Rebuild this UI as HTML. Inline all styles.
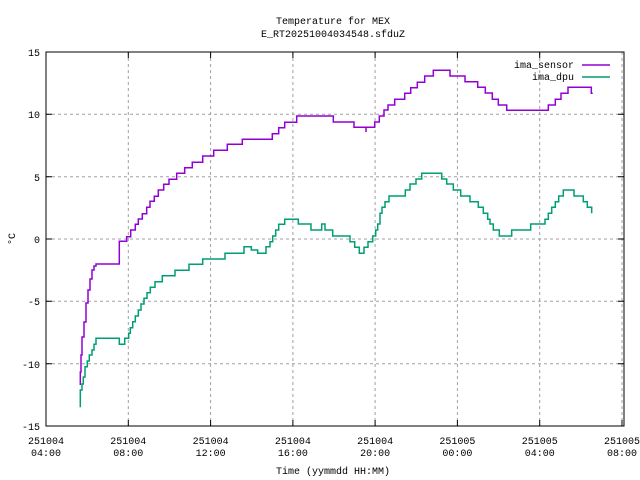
<!DOCTYPE html>
<html><head><meta charset="utf-8"><style>
html,body{margin:0;padding:0;background:#fff;}
svg{display:block;font-family:"Liberation Mono",monospace;font-size:10px;}
</style></head><body>
<svg width="640" height="480" viewBox="0 0 640 480" xmlns="http://www.w3.org/2000/svg">
<rect width="640" height="480" fill="#fff"/>
<g stroke="#a0a0a0" stroke-width="1" stroke-dasharray="3,3" fill="none">
<path d="M46 114.3H624M46 176.7H624M46 239H624M46 301.3H624M46 363.7H624"/>
<path d="M128.3 52V426M210.6 52V426M292.9 52V426M375.1 52V426M457.4 52V426M539.7 52V426M622 52V426"/>
</g>
<g stroke="#000" stroke-width="1" fill="none">
<rect x="46" y="52" width="578" height="374"/>
<path d="M46 114.3h6M46 176.7h6M46 239h6M46 301.3h6M46 363.7h6M624 114.3h-6M624 176.7h-6M624 239h-6M624 301.3h-6M624 363.7h-6"/>
<path d="M128.3 426v-6M210.6 426v-6M292.9 426v-6M375.1 426v-6M457.4 426v-6M539.7 426v-6M622 426v-6M128.3 52v6M210.6 52v6M292.9 52v6M375.1 52v6M457.4 52v6M539.7 52v6"/>
</g>
<g fill="#000" text-anchor="end">
<text x="40" y="56">15</text><text x="40" y="118">10</text><text x="40" y="181">5</text>
<text x="40" y="243">0</text><text x="40" y="305">-5</text><text x="40" y="368">-10</text><text x="40" y="430">-15</text>
</g>
<g fill="#000" text-anchor="middle">
<text x="46" y="444">251004</text><text x="46" y="456">04:00</text>
<text x="128.3" y="444">251004</text><text x="128.3" y="456">08:00</text>
<text x="210.6" y="444">251004</text><text x="210.6" y="456">12:00</text>
<text x="292.9" y="444">251004</text><text x="292.9" y="456">16:00</text>
<text x="375.1" y="444">251004</text><text x="375.1" y="456">20:00</text>
<text x="457.4" y="444">251005</text><text x="457.4" y="456">00:00</text>
<text x="539.7" y="444">251005</text><text x="539.7" y="456">04:00</text>
<text x="622" y="444">251005</text><text x="622" y="456">08:00</text>
<text x="333" y="474">Time (yymmdd HH:MM)</text>
<text x="333" y="24">Temperature for MEX</text>
<text x="333" y="37">E_RT20251004034548.sfduZ</text>
<text x="0" y="0" transform="translate(15,239) rotate(-90)">°C</text>
</g>
<g fill="#000" text-anchor="end">
<text x="574" y="68">ima_sensor</text><text x="574" y="80">ima_dpu</text>
</g>
<path d="M582 65H610" stroke="#9400d3" stroke-width="1.5"/>
<path d="M582 77H610" stroke="#009e73" stroke-width="1.5"/>
<path fill="none" stroke="#9400d3" stroke-width="1.5" d="M80.3 385 V372 H81 V355 H82 V337 H84 V322 H86 V303 H88 V290 H90 V279 H92 V270 H94 V266 H96 V264 H119.3 V241.3 H126.7 V236.7 H130.7 V230 H135.3 V224.3 H138.3 V219 H142.3 V213.7 H146.7 V207.3 H150 V201.3 H154.3 V196.3 H158.3 V190 H163.7 V184.3 H169 V179.3 H176.7 V173.3 H184.7 V167.7 H192.3 V162.3 H202.7 V156 H213.7 V150.3 H227.3 V144.3 H242.3 V139.3 H272.3 V133.7 H278.7 V127.7 H284.7 V122.3 H296.7 V116 H333.3 V122 H354 V127.3 H366 V132 V127.3 H374.7 V122 H379.3 V116 H384 V110 H388 V105 H394.7 V99.3 H404.7 V93.3 H410.7 V87.7 H417.3 V82.3 H424.7 V76 H433.3 V70.3 H450 V76 H465 V81.7 H477.7 V87.3 H485.3 V93 H492.3 V99.3 H498.3 V105 H506.7 V110.3 H548.3 V105 H555.3 V99.3 H561 V93.3 H568 V87.3 H591.3 V93.3 H592.7"/>
<path fill="none" stroke="#009e73" stroke-width="1.5" d="M80.3 407.3 V390 H82 V384 H83.3 V377 H85 V366.7 H87.3 V361 H89.3 V355 H92 V350 H94 V344.3 H96 V338.3 H119.3 V344.3 H124.7 V338.3 H128.7 V333.3 H130.3 V327.7 H132.7 V321.7 H135.3 V316 H138.3 V310 H141 V304 H144 V298.3 H147 V292.7 H150.3 V287.3 H155 V281.7 H162.3 V275.7 H175 V270.3 H189 V264.3 H202.7 V259 H225 V253.3 H244 V246.7 H251.3 V250 H257.7 V253.3 H266 V246.7 H270 V241.7 H272.7 V236 H275.7 V230 H278.7 V224.3 H284.7 V219.3 H298.3 V224 H311 V230 H321.7 V224 H325 V230 H332.7 V236 H350 V241.7 H354.7 V247.3 H359.3 V253.3 H364 V247.3 H368 V241.7 H372.7 V236 H375.7 V230 H377.7 V224 H380 V213.3 H382 V207.3 H385 V201.7 H389 V196 H405.3 V190 H410 V184 H416 V179 H421.7 V173.3 H441.7 V179 H446.7 V184 H453.3 V190 H460.7 V196 H470 V201.7 H478.3 V207.3 H483.3 V213.3 H487.7 V219.3 H490 V224 H493.3 V230 H499.3 V236 H511.7 V230 H530.7 V224 H545 V219.3 H548.3 V213.3 H551.7 V207.3 H555.3 V201.7 H558.7 V196 H563.3 V190 H574 V196 H583.3 V201.7 H587.3 V207.3 H591.7 V213.3"/>
</svg>
</body></html>
